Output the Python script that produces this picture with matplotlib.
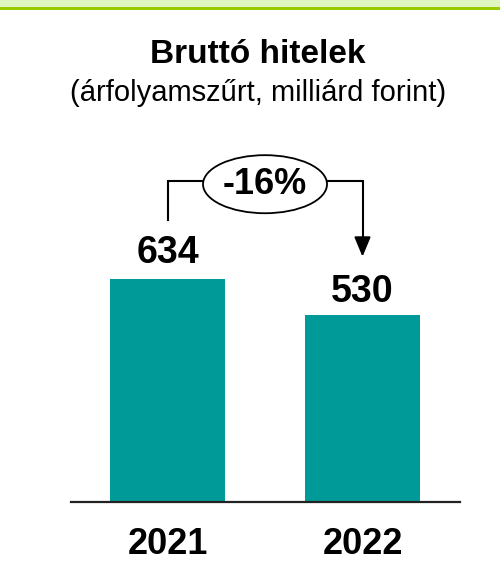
import matplotlib
matplotlib.use("Agg")
import matplotlib.pyplot as plt
from matplotlib.patches import Ellipse, Rectangle

plt.rcParams['font.family'] = ['Liberation Sans', 'DejaVu Sans']

# data
years = ['2021', '2022']
values = [634, 530]
title = 'Bruttó hitelek'
subtitle = '(árfolyamszűrt, milliárd forint)'

teal = '#009B98'
W, H = 500, 577

fig = plt.figure(figsize=(W / 100, H / 100), dpi=100)

# light green strip on the top edge
fig.patches.append(Rectangle((0, 1 - 7 / H), 1, 7 / H, transform=fig.transFigure,
                             facecolor='#DFF5C2', edgecolor='none'))
fig.patches.append(Rectangle((0, 1 - 9.5 / H), 1, 2.5 / H, transform=fig.transFigure,
                             facecolor='#99CC00', edgecolor='none'))

fig.text(258 / W, 1 - 63 / H, title, ha='center', va='baseline',
         fontsize=24, fontweight='bold')
fig.text(258 / W, 1 - 101 / H, subtitle, ha='center', va='baseline', fontsize=21)

ax = fig.add_axes([71 / W, 75 / H, 389 / W, 372 / H])
x = list(range(len(years)))
ax.bar(x, values, width=0.59, color=teal)
ax.set_xlim(-0.495, 1.5)
ax.set_ylim(0, 1057)

for s in ['top', 'right', 'left']:
    ax.spines[s].set_visible(False)
ax.spines['bottom'].set_linewidth(1.6)
ax.spines['bottom'].set_color('#222222')
ax.set_yticks([])
ax.set_xticks(x)
ax.set_xticklabels(years, fontsize=26, fontweight='bold')
ax.tick_params(axis='x', length=0, pad=18)

label_off = [73, 67]
for xi, v, off in zip(x, values, label_off):
    ax.text(xi, v + off, str(v), ha='center', va='center',
            fontsize=27, fontweight='bold')

# change bracket
gap = 167
top = 912
ax.plot([x[0], x[0], 0.18], [values[0] + gap, top, top], color='black', lw=1.5,
        solid_joinstyle='miter')
ax.plot([0.82, x[1], x[1]], [top, top, values[1] + gap + 40], color='black', lw=1.5,
        solid_joinstyle='miter')
ax.annotate('', xy=(x[1], values[1] + gap), xytext=(x[1], values[1] + gap + 50),
            arrowprops=dict(arrowstyle='-|>,head_length=1.2,head_width=0.5',
                            color='black', lw=1.5, shrinkA=0, shrinkB=0))
ax.add_patch(Ellipse((0.5, 903), 0.636, 165, facecolor='white',
                     edgecolor='black', lw=1.3, zorder=3))
pct = round((values[1] / values[0] - 1) * 100)
ax.text(0.5, 903, f'{pct}%', ha='center', va='center', fontsize=26,
        fontweight='bold', zorder=4)

fig.savefig('out.png', dpi=100)
